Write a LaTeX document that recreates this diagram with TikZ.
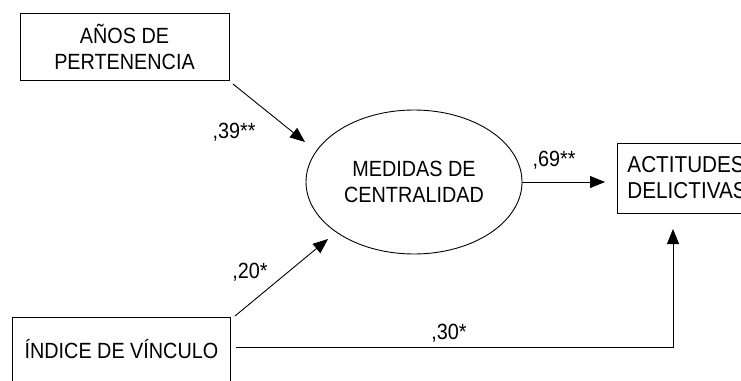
\documentclass[tikz,border=0pt]{standalone}
\usepackage{fontspec}
\setmainfont{Liberation Sans}[FakeStretch=0.9]
\usetikzlibrary{arrows.meta,shapes.geometric}
\begin{document}
\begin{tikzpicture}[x=1pt,y=-1pt,
  every node/.style={font=\fontsize{22}{26}\selectfont, text=black},
  varbox/.style={draw, line width=0.9pt, rectangle, inner sep=0pt, align=center},
  latent/.style={draw, line width=0.9pt, ellipse, inner sep=0pt, align=center},
  path/.style={draw, line width=0.9pt, -{Triangle[length=15pt,width=12pt]}},
  coef/.style={inner sep=0pt}]
\useasboundingbox (0,0) rectangle (741,380);
\clip (0,0) rectangle (741,380);
\fill[white] (0,0) rectangle (741,380);

\node[varbox, minimum width=209pt, minimum height=67pt] (anos) at (124.5,46.5) {AÑOS DE\\PERTENENCIA};
\node[latent, minimum width=216pt, minimum height=144pt] (med) at (414,182) {MEDIDAS DE\\CENTRALIDAD};
\node[varbox, anchor=west, minimum height=70pt, text width=140pt, align=left, inner xsep=10pt, font=\fontsize{23}{26}\selectfont] (act) at (617,178) {ACTITUDES\\DELICTIVAS};
\node[varbox, anchor=north west, minimum width=218pt, minimum height=64pt] (ind) at (12,317) {ÍNDICE DE VÍNCULO};

\coordinate (s1) at (233,84);
\coordinate (t1) at (305,142);
\coordinate (s2) at (235,316);
\coordinate (t2) at (328,239);
\coordinate (s4) at (236,347);
\coordinate (t4) at (673,229);

\draw[path] (s1) -- (t1);
\draw[path] (s2) -- (t2);
\draw[path, shorten >=12pt] (med.east) -- (med.east -| act.west);
\draw[path] (s4) -| (t4);

\node[coef] (c39) at (234,132) {,39**};
\node[coef] (c20) at (250,272) {,20*};
\node[coef] (c69) at (554,160) {,69**};
\node[coef] (c30) at (449,333) {,30*};
\end{tikzpicture}
\end{document}
